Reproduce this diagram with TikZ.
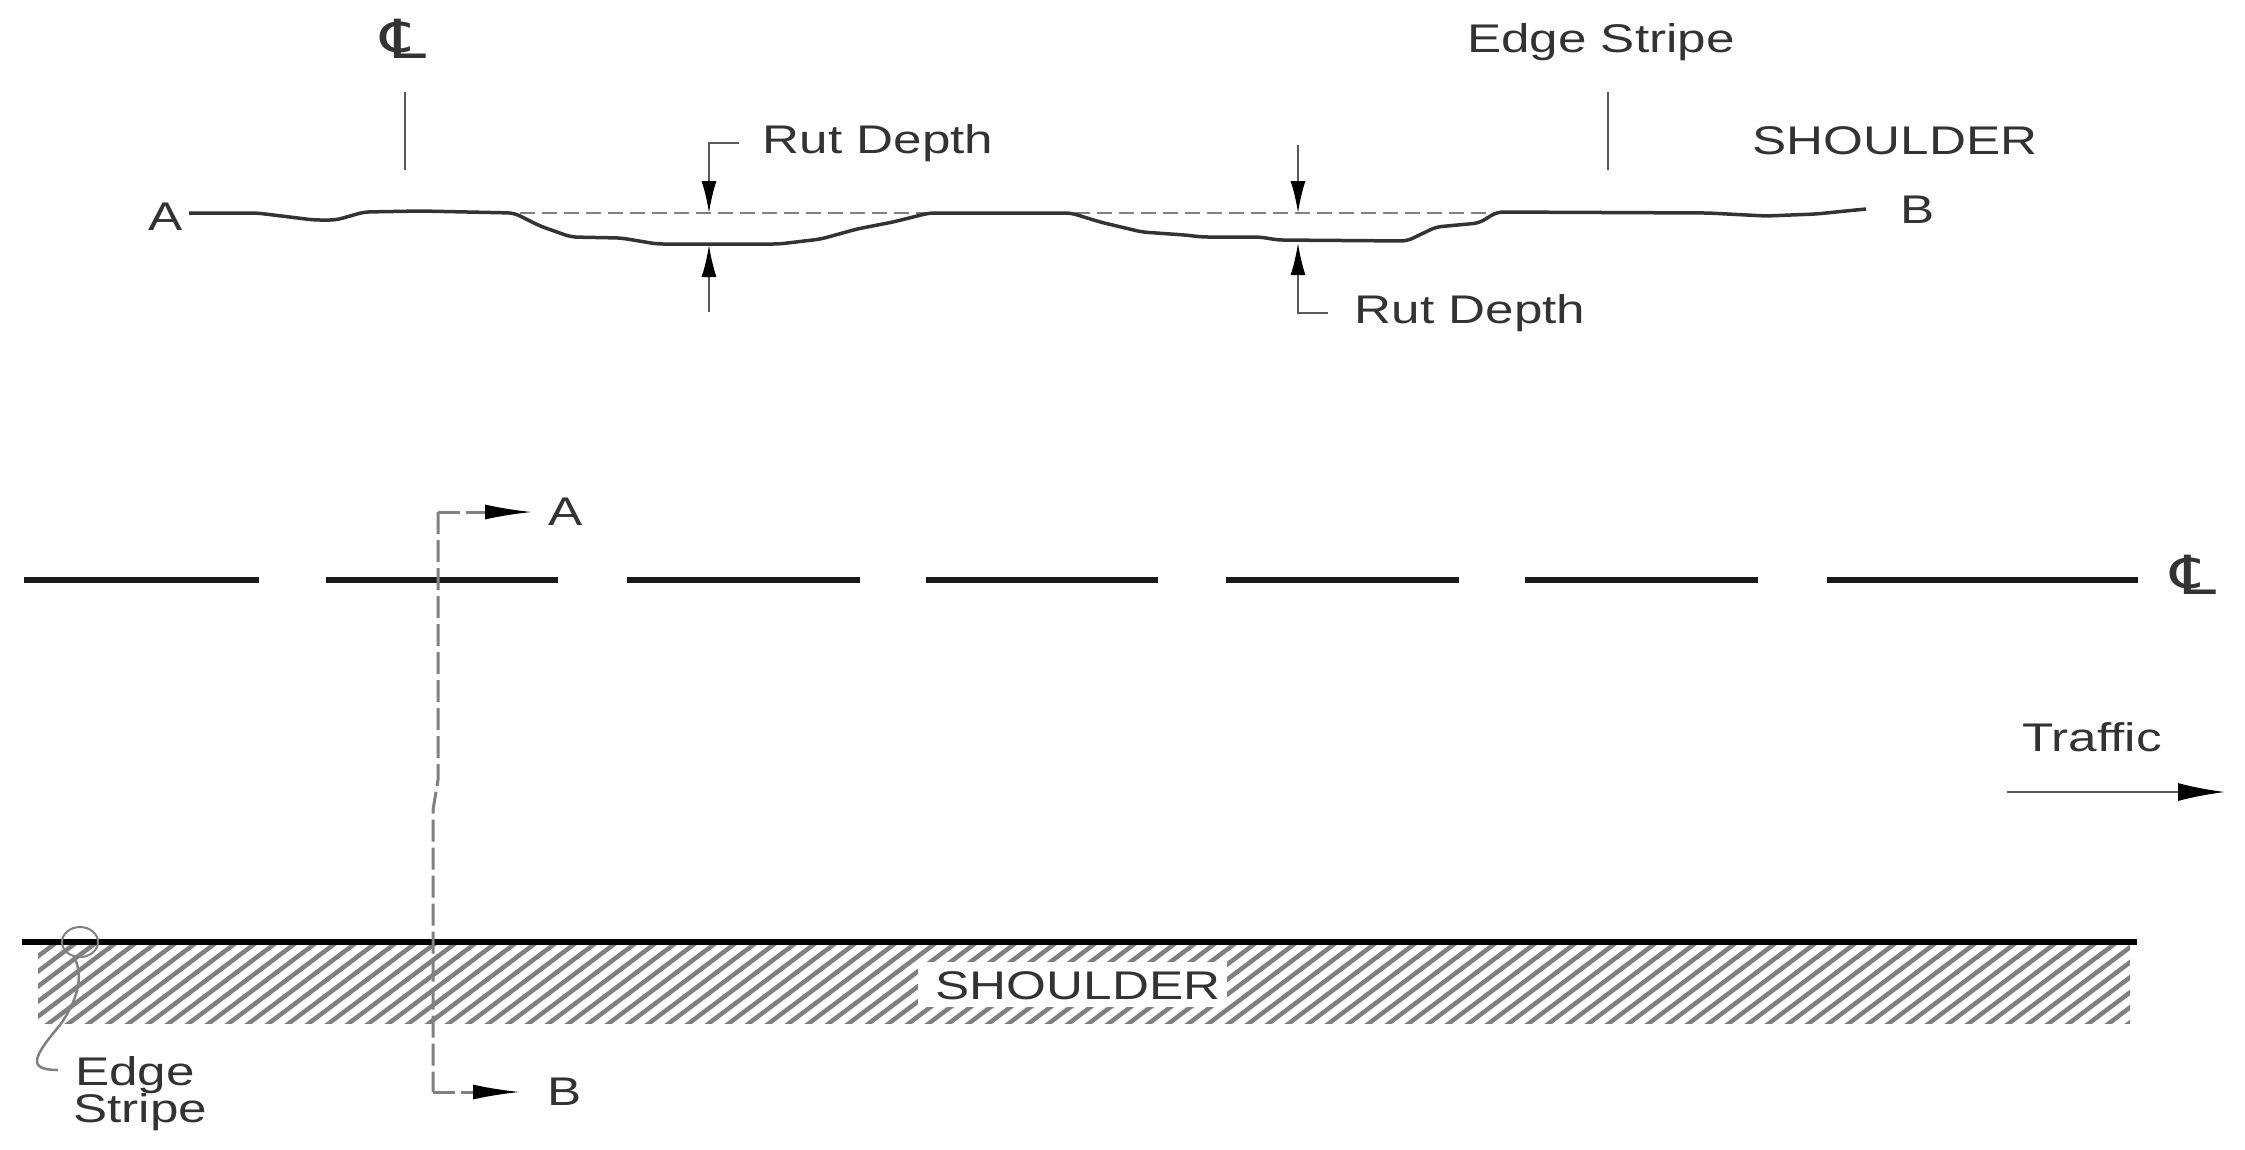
\documentclass[tikz,border=0pt]{standalone}
\usepackage{fontspec}
\setmainfont[FakeStretch=1.28]{Liberation Sans}
\newfontfamily\clfont[FakeStretch=1.3]{DejaVu Sans}
\usetikzlibrary{arrows.meta}
\definecolor{inkk}{gray}{0.2}
\definecolor{thinline}{gray}{0.35}
\definecolor{hatchc}{gray}{0.5}
\tikzset{
  lbl/.style={anchor=base,inner sep=0pt,text=inkk,font=\fontsize{40}{40}\selectfont},
  cltext/.style={anchor=base,inner sep=0pt,text=inkk,font=\clfont\fontsize{54}{54}\selectfont},
  vhead/.style={-{Latex[length=32pt,width=15pt,black]},line width=2pt,draw=thinline},
  hhead/.style={-{Latex[length=47pt,width=15pt,black]},line width=2pt,draw=thinline},
  plain/.style={line width=2pt,draw=thinline},
  profile/.style={line width=3.5pt,draw=inkk,rounded corners=6pt,line join=round},
  refline/.style={line width=2pt,draw=hatchc,dash pattern=on 15pt off 7pt},
  section/.style={line width=3pt,draw=hatchc,dash pattern=on 22pt off 6pt},
  centerdash/.style={line width=6pt,draw=black!90},
  edgeline/.style={line width=6.5pt,draw=black},
  hatchline/.style={line width=4.5pt,draw=hatchc},
}
\begin{document}
\begin{tikzpicture}[x=1pt,y=-1pt]
\useasboundingbox (0,0) rectangle (2245,1149);
% --- top section: labels
\node[cltext] (clA) at (404,58) {℄};
\node[lbl] (ptA) at (166,230) {A};
\node[lbl] (ptB) at (1918,223) {B};
\node[lbl] (rut1) at (878,153) {Rut Depth};
\node[lbl] (rut2) at (1470,323) {Rut Depth};
\node[lbl] (edge1) at (1601,52) {Edge Stripe};
\node[lbl] (sh1) at (1895,154) {SHOULDER};
% --- top section: ticks
\coordinate (t1a) at (405,92); \coordinate (t1b) at (405,170);
\coordinate (t2a) at (1608,92); \coordinate (t2b) at (1608,170);
\draw[plain] (t1a) -- (t1b);
\draw[plain] (t2a) -- (t2b);
% --- reference lines
\coordinate (r1a) at (520,213); \coordinate (r1b) at (930,213);
\coordinate (r2a) at (1075,213); \coordinate (r2b) at (1497,213);
\draw[refline] (r1a) -- (r1b);
\draw[refline] (r2a) -- (r2b);
% --- road profile
\draw[profile] (189,213) -- (257,213) -- (314,220) -- (336,220) -- (364,212) -- (421,211) -- (514,213)
  -- (540,226) -- (571,237) -- (621,238) -- (657,244) -- (779,244) -- (821,239) -- (857,229) -- (893,222)
  -- (929,213) -- (1071,213) -- (1100,222) -- (1142,232) -- (1185,235) -- (1202,237) -- (1260,237)
  -- (1278,240) -- (1407,241) -- (1436,227) -- (1479,223) -- (1497,212) -- (1708,213) -- (1766,216)
  -- (1816,214) -- (1866,209);
% --- rut arrows
\coordinate (a1s) at (739,143); \coordinate (a1c) at (709,143); \coordinate (a1t) at (709,213);
\coordinate (a2s) at (709,312); \coordinate (a2t) at (709,245);
\coordinate (a3s) at (1298,145); \coordinate (a3t) at (1298,213);
\coordinate (a4s) at (1328,313); \coordinate (a4c) at (1298,313); \coordinate (a4t) at (1298,243);
\draw[vhead] (a1s) -- (a1c) -- (a1t);
\draw[vhead] (a2s) -- (a2t);
\draw[vhead] (a3s) -- (a3t);
\draw[vhead] (a4s) -- (a4c) -- (a4t);
% --- lower plan: hatching
\begin{scope}
\clip (38,945) rectangle (2130,1023);
\foreach \xx in {-100,-80,...,2140} {
  \draw[hatchline] (\xx,1030) -- ++(117,-88);
}
\end{scope}
% --- lower plan: edge line and center dashes
\coordinate (e1) at (22,942); \coordinate (e2) at (2137,942);
\draw[edgeline] (e1) -- (e2);
\foreach \aa/\bb [count=\i] in {24/259,326/558,627/860,926/1158,1226/1459,1525/1758,1827/2138} {
  \coordinate (dA\i) at (\aa,580); \coordinate (dB\i) at (\bb,580);
  \draw[centerdash] (dA\i) -- (dB\i);
}
\node[cltext] (clC) at (2194,594) {℄};
% --- section line
\coordinate (sA) at (532,512); \coordinate (sAc) at (438,512);
\coordinate (s1) at (438,780); \coordinate (s2) at (433,810);
\coordinate (sBc) at (433,1092); \coordinate (sB) at (520,1092);
\draw[section] (sAc) -- (s1) -- (s2) -- (sBc);
\draw[section] (sAc) -- (490,512);
\draw[section] (sBc) -- (478,1092);
\draw[hhead] (485,512) -- (sA);
\draw[hhead] (473,1092) -- (sB);
\node[lbl] (ptA2) at (566,525) {A};
\node[lbl] (ptB2) at (565,1105) {B};
% --- traffic
\node[lbl] (traffic) at (2092,751) {Traffic};
\coordinate (tr1) at (2007,792); \coordinate (tr2) at (2225,792);
\draw[-{Latex[length=47pt,width=18pt,black]},line width=2pt,draw=thinline] (tr1) -- (tr2);
% --- shoulder label
\fill[white] (918,962) rectangle (1227,1007);
\node[lbl] (sh2) at (1078,999) {SHOULDER};
% --- edge stripe callout
\draw[plain,draw=hatchc] (80,942) ellipse [x radius=18,y radius=15];
\coordinate (cs) at (74,957); \coordinate (ce) at (58,1070);
\draw[line width=2.5pt,draw=hatchc] (cs) .. controls (84,975) and (78,1000) .. (60,1025)
  .. controls (35,1055) and (25,1070) .. (ce);
\node[lbl,anchor=base west] (edge2a) at (75,1085) {Edge};
\node[lbl,anchor=base west] (edge2b) at (73,1122) {Stripe};
\end{tikzpicture}
\end{document}
